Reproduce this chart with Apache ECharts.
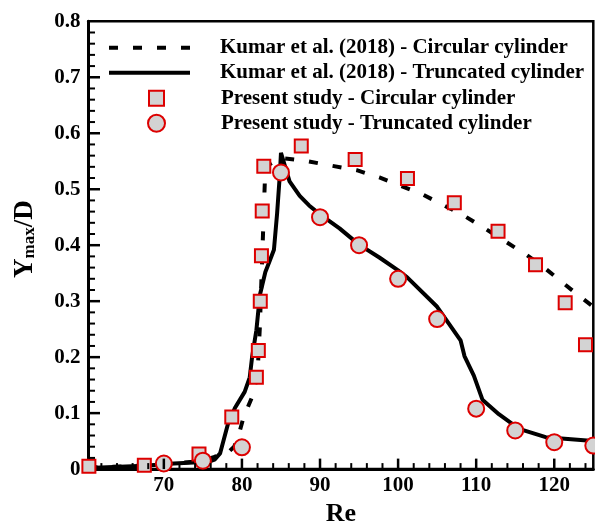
<!DOCTYPE html>
<html><head><meta charset="utf-8">
<script src="https://cdn.jsdelivr.net/npm/echarts@6/dist/echarts.min.js"></script>
<style>html,body{margin:0;padding:0;background:#fff}#c{width:595px;height:532px}</style>
</head><body><div id="c"></div>
<script>
const seriesNames = [
  'Kumar et al. (2018) - Circular cylinder',
  'Kumar et al. (2018) - Truncated cylinder',
  'Present study - Circular cylinder',
  'Present study - Truncated cylinder'
];
const kumarCircRe = [60.35, 65, 70, 75, 76.5, 78.0, 79.0, 79.5, 80.2, 81.4, 82.0, 82.3, 82.5, 82.7, 82.9, 83.0, 84.9, 88.0, 91.5, 94.7, 97.6, 100.2, 103.1, 105.6, 108.4, 111.1, 113.7, 116.3, 118.8, 121.0, 123.5, 125.0];
const kumarCircY  = [0.003, 0.005, 0.008, 0.015, 0.022, 0.027, 0.040, 0.057, 0.092, 0.132, 0.170, 0.255, 0.340, 0.420, 0.500, 0.540, 0.556, 0.551, 0.542, 0.534, 0.521, 0.507, 0.491, 0.473, 0.453, 0.430, 0.407, 0.384, 0.359, 0.334, 0.306, 0.290];
const kumarTruncRe = [60.35, 67.5, 71.3, 75.7, 76.5, 77.2, 78.2, 79.1, 80.35, 81.0, 81.3, 81.85, 82.3, 83.0, 83.5, 84.1, 84.5, 84.85, 85.0, 86.1, 87.4, 88.6, 90.0, 92.5, 95.0, 97.6, 100.0, 101.2, 105.0, 108.0, 108.5, 109.7, 110.8, 112.9, 115.5, 118.9, 125.0];
const kumarTruncY  = [0.002, 0.006, 0.010, 0.013, 0.017, 0.028, 0.080, 0.109, 0.138, 0.164, 0.200, 0.248, 0.311, 0.352, 0.370, 0.392, 0.456, 0.525, 0.565, 0.514, 0.488, 0.471, 0.455, 0.430, 0.401, 0.378, 0.355, 0.342, 0.290, 0.230, 0.202, 0.167, 0.124, 0.098, 0.072, 0.057, 0.050];
const presentCircRe = [60.4, 67.5, 74.5, 78.7, 81.85, 82.1, 82.35, 82.5, 82.6, 82.8, 87.6, 94.5, 101.2, 107.2, 112.8, 117.6, 121.4, 124.0];
const presentCircY  = [0.005, 0.007, 0.027, 0.093, 0.164, 0.212, 0.300, 0.381, 0.461, 0.541, 0.577, 0.553, 0.519, 0.476, 0.425, 0.365, 0.297, 0.222];
const presentTruncRe = [70, 75, 80, 85, 90, 95, 100, 105, 110, 115, 120, 125];
const presentTruncY  = [0.010, 0.015, 0.039, 0.530, 0.450, 0.400, 0.340, 0.268, 0.108, 0.069, 0.048, 0.042];
const xMajorTicks = [70, 80, 90, 100, 110, 120];
const xMinorTicks = [62, 64, 66, 68, 72, 74, 76, 78, 82, 84, 86, 88, 92, 94, 96, 98, 102, 104, 106, 108, 112, 114, 116, 118, 122, 124];
const yMajorTicks = [0, 0.1, 0.2, 0.3, 0.4, 0.5, 0.6, 0.7, 0.8];
const yTickLabels = ['0', '0.1', '0.2', '0.3', '0.4', '0.5', '0.6', '0.7', '0.8'];
const yMinorTicks = [0.02, 0.04, 0.06, 0.08, 0.12, 0.14, 0.16, 0.18, 0.22, 0.24, 0.26, 0.28, 0.32, 0.34, 0.36, 0.38, 0.42, 0.44, 0.46, 0.48, 0.52, 0.54, 0.56, 0.58, 0.62, 0.64, 0.66, 0.68, 0.72, 0.74, 0.76, 0.78];

const FONT = 'Liberation Serif';
const RED = '#dd0000';
const GREY = '#d3d3d3';
const zip = (a, b) => a.map((v, i) => [v, b[i]]);
const X_MIN = 60.35, X_MAX = 125;
const Y_MIN = 0, Y_MAX = 0.8;

// tick marks drawn inward through the axes' own coordinate mapping
// kind: 0 = x major, 1 = x minor, 2 = y major, 3 = y minor
const tickData = [].concat(
  xMajorTicks.map(v => [v, 0]), xMinorTicks.map(v => [v, 1]),
  yMajorTicks.slice(1, -1).map(v => [v, 2]), yMinorTicks.map(v => [v, 3])
);
const TICK_LEN = [10.5, 6, 11.5, 6.5];
const TICK_W = [2.5, 2, 2.5, 2];

const legendCommon = {
  orient: 'vertical', padding: 0, selectedMode: false,
  textStyle: { fontFamily: FONT, fontWeight: 'bold', fontSize: 21, color: '#000', lineHeight: 25 }
};
const noSplit = { show: false };

const option = {
  animation: false,
  grid: { left: 88.5, right: 1.7, top: 21.3, bottom: 49.3, show: true, borderColor: '#000', borderWidth: 2.5, backgroundColor: 'transparent' },
  xAxis: {
    type: 'value', min: X_MIN, max: X_MAX, position: 'bottom',
    name: 'Re', nameLocation: 'middle', nameGap: 24,
    nameTextStyle: { fontFamily: FONT, fontWeight: 'bold', fontSize: 26, color: '#000' },
    axisLine: { show: true, onZero: false, lineStyle: { color: '#000', width: 3 } },
    axisTick: { show: false },
    axisLabel: { show: true, customValues: xMajorTicks, margin: 6, fontFamily: FONT, fontWeight: 'bold', fontSize: 21, color: '#000' },
    splitLine: noSplit
  },
  yAxis: {
    type: 'value', min: Y_MIN, max: Y_MAX, position: 'left',
    name: '{y|Y}{s|max}{y|/D}', nameLocation: 'middle', nameGap: 50, nameRotate: 90,
    nameTextStyle: {
      fontFamily: FONT, fontWeight: 'bold', color: '#000', padding: [0, 0, 0, 12],
      rich: {
        y: { fontFamily: FONT, fontWeight: 'bold', fontSize: 27, color: '#000', verticalAlign: 'bottom' },
        s: { fontFamily: FONT, fontWeight: 'bold', fontSize: 17, color: '#000', verticalAlign: 'bottom', padding: [8, 0, 0, 0] }
      }
    },
    axisLine: { show: true, onZero: false, lineStyle: { color: '#000', width: 3 } },
    axisTick: { show: false },
    axisLabel: { customValues: yMajorTicks, margin: 8, fontFamily: FONT, fontWeight: 'bold', fontSize: 21, color: '#000',
      formatter: v => yTickLabels[Math.round(v * 10)] },
    splitLine: noSplit
  },
  legend: [
    Object.assign({}, legendCommon, {
      data: [{ name: seriesNames[0], itemStyle: { opacity: 0 }, lineStyle: { color: '#000', width: 4, type: [9, 15] } }],
      left: 107, top: 35.2, itemWidth: 81, itemHeight: 20,
      textStyle: Object.assign({}, legendCommon.textStyle, { padding: [0, 0, 0, 25] })
    }),
    Object.assign({}, legendCommon, {
      data: [{ name: seriesNames[1], itemStyle: { opacity: 0 }, lineStyle: { color: '#000', width: 4, type: 'solid' } }],
      left: 107, top: 60.2, itemWidth: 81, itemHeight: 20,
      textStyle: Object.assign({}, legendCommon.textStyle, { padding: [0, 0, 0, 25] })
    }),
    Object.assign({}, legendCommon, {
      data: [{ name: seriesNames[2], icon: 'rect', itemStyle: { color: GREY, borderColor: RED, borderWidth: 2 } }],
      left: 148, top: 85.8, itemWidth: 15, itemHeight: 15,
      textStyle: Object.assign({}, legendCommon.textStyle, { padding: [0, 0, 0, 52] })
    }),
    Object.assign({}, legendCommon, {
      data: [{ name: seriesNames[3], icon: 'circle', itemStyle: { color: GREY, borderColor: RED, borderWidth: 2 } }],
      left: 147, top: 110.8, itemWidth: 17, itemHeight: 17,
      textStyle: Object.assign({}, legendCommon.textStyle, { padding: [0, 0, 0, 51] })
    })
  ],
  series: [
    { name: 'axis ticks', type: 'custom', data: tickData, silent: true, z: 10, clip: false,
      dimensions: ['v', 'k'], encode: { x: 0, y: 1 },
      renderItem: (params, api) => {
        const v = api.value(0), k = api.value(1);
        const len = TICK_LEN[k], w = TICK_W[k];
        if (k < 2) {
          const p = api.coord([v, Y_MIN]);
          return { type: 'rect', shape: { x: p[0] - w / 2, y: p[1] - len, width: w, height: len }, style: { fill: '#000' } };
        }
        const p = api.coord([X_MIN, v]);
        return { type: 'rect', shape: { x: p[0], y: p[1] - w / 2, width: len, height: w }, style: { fill: '#000' } };
      } },
    { name: seriesNames[0], type: 'line', data: zip(kumarCircRe, kumarCircY), symbol: 'none', z: 2,
      lineStyle: { color: '#000', width: 4, type: [9, 15] }, itemStyle: { color: '#000' } },
    { name: seriesNames[1], type: 'line', data: zip(kumarTruncRe, kumarTruncY), symbol: 'none', z: 3,
      lineStyle: { color: '#000', width: 4, type: 'solid' }, itemStyle: { color: '#000' } },
    { name: seriesNames[2], type: 'scatter', data: zip(presentCircRe, presentCircY), symbol: 'rect', symbolSize: 13, z: 4,
      clip: false, itemStyle: { color: GREY, borderColor: RED, borderWidth: 2, opacity: 1 } },
    { name: seriesNames[3], type: 'scatter', data: zip(presentTruncRe, presentTruncY), symbol: 'circle', symbolSize: 16, z: 5,
      clip: false, itemStyle: { color: GREY, borderColor: RED, borderWidth: 2, opacity: 1 } }
  ]
};
const chart = echarts.init(document.getElementById('c'), null, { renderer: 'canvas' });
chart.setOption(option);
</script></body></html>
